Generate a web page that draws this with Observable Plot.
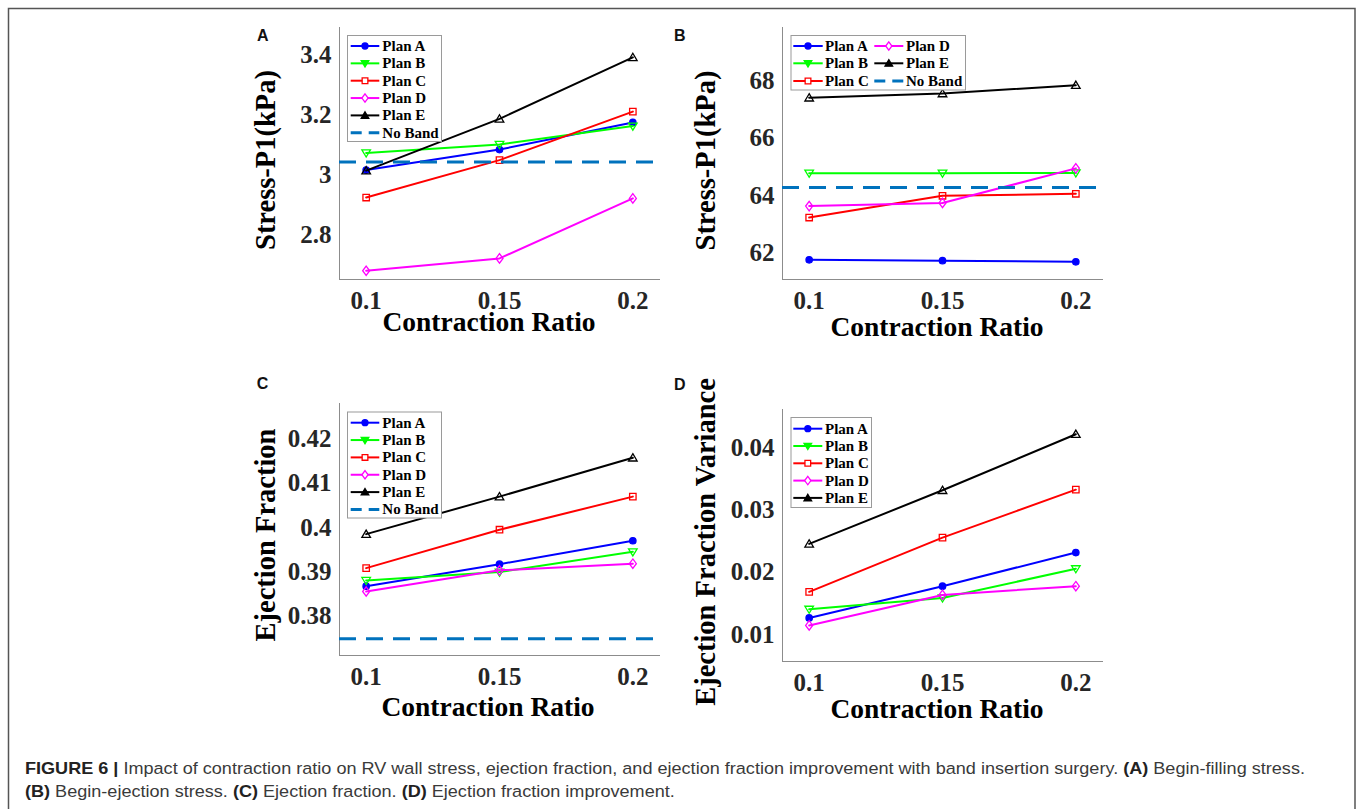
<!DOCTYPE html>
<html>
<head>
<meta charset="utf-8">
<script src="https://cdn.jsdelivr.net/npm/d3@7"></script>
<script src="https://cdn.jsdelivr.net/npm/@observablehq/plot@0.6"></script>
<style>
  html, body { margin: 0; padding: 0; background: #fff; }
  body { width: 1360px; height: 809px; overflow: hidden; position: relative; }
  .panel { position: absolute; }
  #overlay { position: absolute; left: 0; top: 0; pointer-events: none; }
</style>
</head>
<body>
<div id="root"></div>
<script>
// ---------- data ----------
const ratios = [0.1, 0.15, 0.2];
const plans = ["Plan A", "Plan B", "Plan C", "Plan D", "Plan E"];
const planColors = ["#0000ff", "#00ff00", "#ff0000", "#ff00ff", "#000000"];
const noBandLabel = "No Band";
const noBandColor = "#0072bd";

// (A) begin-filling stress, rows = plans A..E, columns = ratios
const stressFilling = [
  [3.017, 3.085, 3.175],
  [3.074, 3.102, 3.163],
  [2.926, 3.050, 3.211],
  [2.683, 2.724, 2.923],
  [3.015, 3.187, 3.391]
];
const stressFillingNoBand = 3.044;

// (B) begin-ejection stress
const stressEjection = [
  [61.75, 61.72, 61.68],
  [64.78, 64.78, 64.79],
  [63.23, 63.99, 64.06],
  [63.63, 63.74, 64.95],
  [67.42, 67.57, 67.86]
];
const stressEjectionNoBand = 64.28;

// (C) ejection fraction
const ejectionFraction = [
  [0.3867, 0.3917, 0.3970],
  [0.3880, 0.3899, 0.3945],
  [0.3908, 0.3995, 0.4070],
  [0.3855, 0.3903, 0.3918],
  [0.3985, 0.4070, 0.4158]
];
const ejectionFractionNoBand = 0.3748;

// (D) ejection fraction variance
const efVariance = [
  [0.0127, 0.0178, 0.0232],
  [0.0141, 0.0159, 0.0206],
  [0.0169, 0.0256, 0.0333],
  [0.0115, 0.0164, 0.0178],
  [0.0246, 0.0332, 0.0422]
];

const xTicks = [0.1, 0.15, 0.2];
const yTicksA = [2.8, 3, 3.2, 3.4];
const yTicksB = [62, 64, 66, 68];
const yTicksC = [0.38, 0.39, 0.4, 0.41, 0.42];
const yTicksD = [0.01, 0.02, 0.03, 0.04];

const xLabel = "Contraction Ratio";
const yLabelA = "Stress-P1(kPa)";
const yLabelB = "Stress-P1(kPa)";
const yLabelC = "Ejection Fraction";
const yLabelD = "Ejection Fraction Variance";

// ---------- symbols ----------
function rOf(size) { return Math.sqrt(size / Math.PI); }
const symCircle = { draw(c, s) { const r = rOf(s); c.moveTo(r, 0); c.arc(0, 0, r, 0, 2 * Math.PI); } };
const symTriDown = { draw(c, s) { const r = rOf(s); c.moveTo(-r, -0.7 * r); c.lineTo(r, -0.7 * r); c.lineTo(0, 0.95 * r); c.closePath(); } };
const symSquare = { draw(c, s) { const r = rOf(s) * 0.75; c.moveTo(-r, -r); c.lineTo(r, -r); c.lineTo(r, r); c.lineTo(-r, r); c.closePath(); } };
const symDiamond = { draw(c, s) { const r = rOf(s); c.moveTo(0, -1.1 * r); c.lineTo(0.82 * r, 0); c.lineTo(0, 1.1 * r); c.lineTo(-0.82 * r, 0); c.closePath(); } };
const symTriUp = { draw(c, s) { const r = rOf(s); c.moveTo(0, -0.95 * r); c.lineTo(r, 0.75 * r); c.lineTo(-r, 0.75 * r); c.closePath(); } };
const planSymbols = [symCircle, symTriDown, symSquare, symDiamond, symTriUp];
const planFilled = [true, false, false, false, false];
const planR = [3.2, 4.3, 4.3, 4.3, 4.3];

const serif = '"Liberation Serif", "Times New Roman", Times, serif';
const axisColor = "#8c8c8c";
const textColor = "#262626";

// ---------- panels ----------
const ML = 80, MR = 20, MT = 10, MB = 50;
function drawPanel(cfg) {
  const [x0, y0, x1, y1] = cfg.box;
  const data = [];
  cfg.values.forEach((row, i) => row.forEach((v, j) => data.push({ plan: plans[i], ratio: ratios[j], value: v })));
  const marks = [
    Plot.frame({ anchor: "left", stroke: axisColor }),
    Plot.frame({ anchor: "bottom", stroke: axisColor }),
    Plot.axisX({ ticks: xTicks, tickSize: 0, tickPadding: 12, tickFormat: d => String(d),
      fontSize: 25, fontWeight: "bold", label: null }),
    Plot.axisY({ ticks: cfg.yTicks, tickSize: 0, tickPadding: 8, tickFormat: d => String(d),
      fontSize: 25, fontWeight: "bold", label: null })
  ];
  plans.forEach((p, i) => {
    const sub = data.filter(d => d.plan === p);
    marks.push(Plot.line(sub, { x: "ratio", y: "value", stroke: planColors[i], strokeWidth: 2 }));
    marks.push(Plot.dot(sub, { x: "ratio", y: "value", symbol: planSymbols[i], r: planR[i],
      stroke: planColors[i], strokeWidth: 1.3, fill: planFilled[i] ? planColors[i] : "none" }));
  });
  if (cfg.noBand != null) {
    marks.push(Plot.ruleY([cfg.noBand], { stroke: noBandColor, strokeWidth: 3, strokeDasharray: "17,10" }));
  }
  const chart = Plot.plot({
    width: (x1 - x0) + ML + MR,
    height: (y1 - y0) + MT + MB,
    marginLeft: ML, marginRight: MR, marginTop: MT, marginBottom: MB,
    x: { domain: [0.09, 0.21] },
    y: { domain: cfg.yDomain },
    style: { background: "transparent", overflow: "visible", color: textColor, fontFamily: serif },
    marks
  });
  chart.classList.add("panel");
  chart.style.left = (x0 - ML) + "px";
  chart.style.top = (y0 - MT) + "px";
  chart.style.position = "absolute";
  document.getElementById("root").appendChild(chart);
}

drawPanel({ box: [339, 27, 659, 279], values: stressFilling, noBand: stressFillingNoBand, yDomain: [2.654, 3.49], yTicks: yTicksA });
drawPanel({ box: [782, 27, 1102, 279], values: stressEjection, noBand: stressEjectionNoBand, yDomain: [61.06, 69.88], yTicks: yTicksB });
drawPanel({ box: [339, 403, 659, 655], values: ejectionFraction, noBand: ejectionFractionNoBand, yDomain: [0.371, 0.4281], yTicks: yTicksC });
drawPanel({ box: [782, 409, 1102, 661], values: efVariance, noBand: null, yDomain: [0.00571, 0.04617], yTicks: yTicksD });

// ---------- overlay: frame, labels, legends, caption ----------
const svg = d3.select("body").append("svg").attr("id", "overlay").attr("width", 1360).attr("height", 809);
svg.append("rect").attr("x", 8.5).attr("y", 8.5).attr("width", 1346.5).attr("height", 840)
  .attr("fill", "none").attr("stroke", "#555").attr("stroke-width", 1.5);

// panel letters
[["A", 257, 40.7], ["B", 674, 40.7], ["C", 256.7, 389.3], ["D", 674, 390]].forEach(([t, x, y]) => {
  svg.append("text").attr("x", x).attr("y", y).text(t)
    .attr("font-family", '"Liberation Sans", Arial, sans-serif').attr("font-weight", "bold")
    .attr("font-size", 16).attr("fill", "#111");
});

// x labels
[[489, 331], [937, 336], [488, 716], [937, 717.5]].forEach(([x, y]) => {
  svg.append("text").attr("x", x).attr("y", y).attr("text-anchor", "middle").text(xLabel)
    .attr("font-family", serif).attr("font-weight", "bold").attr("font-size", 27.5).attr("fill", "#000");
});
// y labels
[[yLabelA, 275, 160], [yLabelB, 715, 160.5], [yLabelC, 275, 535], [yLabelD, 715, 542]].forEach(([t, x, y]) => {
  svg.append("text").attr("transform", `translate(${x},${y}) rotate(-90)`).attr("text-anchor", "middle").text(t)
    .attr("font-family", serif).attr("font-weight", "bold").attr("font-size", 28.5).attr("fill", "#000");
});

// legends
function legendItem(g, item, lx0, lx1, tx, cy) {
  if (item.noBand) {
    g.append("line").attr("x1", lx0).attr("x2", lx1).attr("y1", cy).attr("y2", cy)
      .attr("stroke", noBandColor).attr("stroke-width", 3).attr("stroke-dasharray", "11,7");
  } else {
    g.append("line").attr("x1", lx0).attr("x2", lx1).attr("y1", cy).attr("y2", cy)
      .attr("stroke", item.color).attr("stroke-width", 2);
    const r = item.r;
    const path = d3.symbol(item.symbol, r * r * Math.PI)();
    g.append("path").attr("d", path).attr("transform", `translate(${(lx0 + lx1) / 2},${cy})`)
      .attr("stroke", item.color).attr("stroke-width", 1.3)
      .attr("fill", item.filled ? item.color : "#fff");
  }
  g.append("text").attr("x", tx).attr("y", cy + 5).text(item.label)
    .attr("font-family", serif).attr("font-weight", "bold").attr("font-size", 15).attr("fill", "#000");
}
const legendPlanItems = plans.map((p, i) => ({
  label: p, color: planColors[i], symbol: planSymbols[i],
  r: i === 0 ? 3 : 3.8, filled: [true, true, false, false, true][i]
}));
const noBandItem = { label: noBandLabel, noBand: true };

function legendBox(x0, y0, x1, y1) {
  const g = svg.append("g");
  g.append("rect").attr("x", x0 + 0.5).attr("y", y0 + 0.5).attr("width", x1 - x0).attr("height", y1 - y0)
    .attr("fill", "#fff").attr("stroke", "#9a9a9a").attr("stroke-width", 1);
  return g;
}
{
  const g = legendBox(347, 35, 441, 141);
  [...legendPlanItems, noBandItem].forEach((it, i) => legendItem(g, it, 350.7, 379.3, 382.3, 46 + i * 17.35));
}
{
  const g = legendBox(347, 411.5, 441, 517.5);
  [...legendPlanItems, noBandItem].forEach((it, i) => legendItem(g, it, 350.7, 379.3, 382.3, 422.7 + i * 17.35));
}
{
  const g = legendBox(790.5, 417, 871, 507);
  legendPlanItems.forEach((it, i) => legendItem(g, it, 793.3, 822.3, 825, 428.7 + i * 17.3));
}
{
  const g = legendBox(790.5, 35, 965, 89.5);
  const col1 = legendPlanItems.slice(0, 3), col2 = [legendPlanItems[3], legendPlanItems[4], noBandItem];
  const rows = [46, 63.3, 81];
  col1.forEach((it, i) => legendItem(g, it, 793.3, 822.7, 825, rows[i]));
  col2.forEach((it, i) => legendItem(g, it, 874.3, 903.3, 906, rows[i]));
}

// caption
const capFont = '"Liberation Sans", Arial, Helvetica, sans-serif';
const capLines = [
  [["FIGURE 6 |", true], [" Impact of contraction ratio on RV wall stress, ejection fraction, and ejection fraction improvement with band insertion surgery. ", false], ["(A)", true], [" Begin-filling stress.", false]],
  [["(B)", true], [" Begin-ejection stress. ", false], ["(C)", true], [" Ejection fraction. ", false], ["(D)", true], [" Ejection fraction improvement.", false]]
];
const capTexts = capLines.map((parts, li) => {
  const t = svg.append("text").attr("x", 0).attr("y", 0)
    .attr("font-family", capFont).attr("font-size", 16.5).attr("fill", "#333")
    .attr("transform", `translate(25,${li === 0 ? 774 : 797})`)
    .style("white-space", "pre");
  parts.forEach(([s, b]) => t.append("tspan").text(s).attr("font-weight", b ? "bold" : "normal").attr("fill", b ? "#222" : "#3a3a3a"));
  return t;
});
const w0 = capTexts[0].node().getComputedTextLength();
const sx = 1281 / w0;
capTexts.forEach((t, li) => t.attr("transform", `translate(25,${li === 0 ? 774 : 797}) scale(${sx},1)`));
</script>
</body>
</html>
